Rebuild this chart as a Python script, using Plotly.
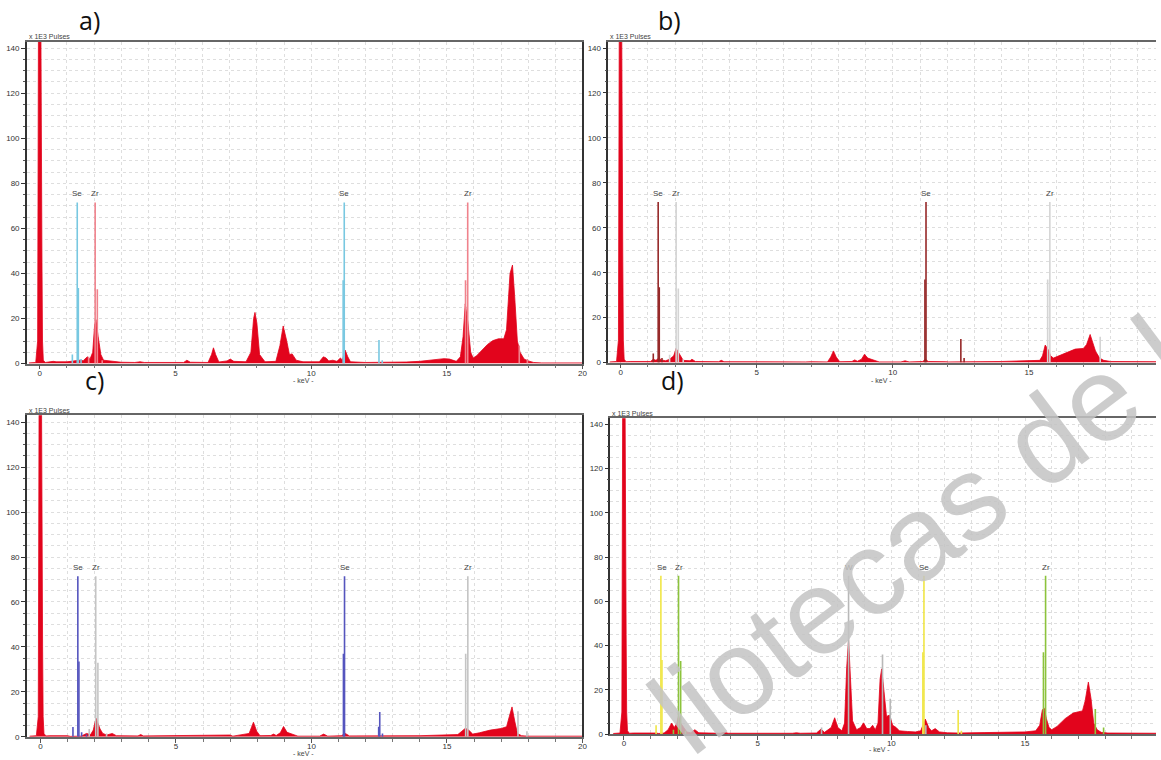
import plotly.graph_objects as go

W, H = 1161, 760

# ---------------- spectra (keV, x1E3 pulses) ----------------
a_keV = [-0.4, -0.15, -0.08, -0.05, 0.04, 0.06, 0.08, 0.1, 0.13, 0.2, 0.35, 0.5, 0.6, 0.8, 1.0, 1.15, 1.3, 1.45, 1.6, 1.75,
         1.85, 1.95, 2.02, 2.07, 2.15, 2.25, 2.35, 2.55, 2.7, 3.0, 3.5, 3.7, 3.85, 4.5, 5.3, 5.42, 5.55, 6.2, 6.33, 6.4,
         6.48, 6.6, 6.9, 7.02, 7.15, 7.6, 7.78, 7.88, 7.93, 8.0, 8.1, 8.3, 8.7, 8.85, 8.97, 9.1, 9.2, 9.3, 9.45, 9.7,
         10.3, 10.45, 10.55, 10.65, 10.8, 10.95, 11.08, 11.15, 11.25, 11.35, 11.45, 12.0, 12.5, 13.0, 13.5, 14.0, 14.5, 14.9, 15.1, 15.35,
         15.5, 15.6, 15.68, 15.78, 15.88, 15.97, 16.1, 16.3, 16.5, 16.7, 16.9, 17.1, 17.2, 17.33, 17.42, 17.5, 17.6, 17.7, 17.85, 18.0,
         18.2, 18.5, 20.0]
a_cts = [0.3, 0.5, 10, 150, 150, 46, 45, 10, 1.5, 0.5, 0.8, 1.0, 0.8, 0.7, 0.8, 1.0, 1.2, 1.5, 1.3, 3.0,
         2.0, 5, 17, 19.5, 12, 4, 1.5, 1.2, 0.8, 0.6, 0.5, 0.8, 0.5, 0.4, 0.5, 1.5, 0.6, 0.5, 4, 7,
         4, 0.7, 1.2, 2, 1.0, 0.8, 5, 20, 22.7, 18, 4, 0.8, 1.0, 8, 16.7, 10, 4, 4.3, 1.5, 0.8,
         0.8, 3, 2.5, 1.2, 1.5, 1.0, 2.5, 1.5, 6, 3, 0.8, 0.5, 0.5, 0.5, 0.7, 1.0, 1.5, 2.2, 2.0, 1.0,
         3, 12, 26.5, 18, 5, 2.5, 3.5, 6, 8.5, 10.2, 11, 11, 15, 40, 43.7, 30, 10, 5, 2, 1.2,
         0.5, 0.3, 0.3]

b_keV = [-0.4, -0.15, -0.08, -0.05, 0.04, 0.06, 0.08, 0.1, 0.13, 0.2, 0.35, 1.1, 1.2, 1.3, 1.4, 1.5, 1.65, 1.8, 1.95, 2.04,
         2.1, 2.2, 2.3, 2.55, 2.62, 2.75, 3.6, 3.7, 3.8, 6.8, 7.0, 7.6, 7.72, 7.82, 7.92, 8.05, 8.5, 8.6, 8.7, 8.85,
         8.96, 9.08, 9.3, 9.5, 10.3, 10.45, 10.6, 11.1, 11.2, 11.3, 11.95, 12.05, 14.0, 14.5, 15.0, 15.4, 15.5, 15.6, 15.7, 15.8,
         15.9, 16.1, 16.45, 16.7, 17.0, 17.12, 17.25, 17.35, 17.45, 17.6, 17.75, 18.0, 19.7]
b_cts = [0.3, 0.5, 10, 150, 150, 46, 45, 10, 1.5, 0.4, 0.5, 0.5, 1.5, 1.0, 2.0, 1.2, 0.8, 1.5, 3, 6.3,
         5, 2.5, 1.0, 0.8, 1.5, 0.5, 0.4, 1.0, 0.4, 0.3, 0.4, 0.3, 2.5, 5.2, 2.5, 0.4, 0.5, 1.2, 0.6, 1.5,
         3.7, 2, 1.0, 0.3, 0.3, 0.8, 0.3, 0.5, 1.5, 0.5, 0.4, 0.3, 0.5, 0.6, 0.8, 1.0, 3, 7.8, 6, 3,
         2, 3, 4.5, 6, 6.3, 8, 12.5, 9, 5, 2, 1, 0.5, 0.4]

c_keV = [-0.4, -0.15, -0.08, -0.05, 0.04, 0.06, 0.08, 0.1, 0.13, 0.2, 0.35, 1.0, 1.1, 1.5, 1.7, 1.85, 1.95, 2.05, 2.12, 2.2,
         2.3, 2.45, 2.65, 2.8, 3.6, 3.7, 3.8, 6.4, 7.0, 7.1, 7.7, 7.86, 7.98, 8.1, 8.5, 8.6, 8.7, 8.85, 8.97, 9.1,
         9.3, 9.5, 10.3, 10.45, 10.6, 11.1, 11.25, 11.4, 14.0, 14.5, 15.0, 15.4, 15.55, 15.68, 15.8, 15.95, 16.2, 16.6, 17.0, 17.2,
         17.3, 17.4, 17.5, 17.6, 17.75, 18.0, 20.0]
c_cts = [0.3, 0.5, 9, 150, 150, 46, 40, 9, 1.5, 0.4, 0.5, 0.5, 0.2, 0.3, 1.5, 1.0, 3, 8.3, 6, 3.5,
         1.5, 0.8, 1.5, 0.5, 0.4, 1.0, 0.4, 0.5, 0.8, 0.3, 1.5, 6.5, 2.5, 0.5, 0.6, 1.2, 0.6, 1.8, 4.6, 2,
         1.0, 0.3, 0.3, 1.2, 0.3, 0.5, 1.5, 0.4, 0.5, 0.6, 0.8, 1.0, 2.5, 3.8, 3, 1.2, 1.8, 3, 3.7, 4.5,
         9, 13.3, 7, 1.5, 0.5, 0.3, 0.3]

d_keV = [-0.4, -0.15, -0.08, -0.05, 0.04, 0.06, 0.08, 0.1, 0.13, 0.2, 0.35, 1.2, 1.3, 1.5, 1.65, 1.78, 1.88, 1.98, 2.04, 2.12,
         2.22, 2.35, 2.5, 2.65, 2.8, 3.6, 3.75, 3.9, 6.3, 6.45, 6.6, 7.2, 7.37, 7.5, 7.75, 7.88, 8.0, 8.15, 8.25, 8.33,
         8.4, 8.48, 8.55, 8.7, 8.85, 8.96, 9.08, 9.2, 9.3, 9.4, 9.5, 9.58, 9.64, 9.72, 9.82, 9.93, 10.05, 10.18, 10.3, 10.6,
         10.9, 11.1, 11.27, 11.4, 11.5, 11.64, 11.8, 12.1, 12.5, 13.5, 14.0, 14.5, 15.0, 15.4, 15.55, 15.65, 15.72, 15.8, 15.9, 16.0,
         16.2, 16.5, 16.8, 17.0, 17.15, 17.25, 17.37, 17.47, 17.57, 17.7, 17.85, 18.1, 19.9]
d_cts = [0.3, 0.5, 10, 150, 150, 46, 45, 10, 1.5, 0.4, 0.5, 0.5, 0.3, 0.5, 2, 5, 3, 5, 8.5, 5,
         3, 1.0, 0.6, 2, 0.6, 0.4, 0.8, 0.4, 0.4, 0.6, 0.4, 0.5, 2.3, 0.8, 3, 7.4, 3, 1.5, 5, 30,
         42.7, 25, 6, 2, 3, 5.1, 2.5, 2.5, 4, 2, 5, 25, 29.5, 20, 8, 8.6, 4, 3, 1.5, 1.2,
         1.0, 1.5, 6.8, 3, 1.5, 2.5, 1.0, 0.6, 0.5, 0.7, 0.8, 0.9, 1.0, 1.5, 4, 11, 11.7, 7, 3, 2,
         3.5, 7, 9.5, 10.1, 10.5, 15, 23.5, 16, 5, 2, 0.8, 0.5, 0.4]

# ---------------- element line markers ----------------
a_se_keV = [1.20, 1.38, 1.42, 1.52, 11.18, 11.22, 12.50, 12.62]
a_se_h = [4, 71.5, 33.5, 2, 37, 71.5, 10.5, 1.5]
a_zr_keV = [1.80, 2.04, 2.12, 2.30, 15.69, 15.77, 17.67, 17.97]
a_zr_h = [3, 71.5, 33, 1.5, 37, 71.5, 8, 2]

b_se_keV = [1.20, 1.38, 1.42, 1.52, 11.18, 11.22, 12.50, 12.62]
b_se_h = [4, 71.5, 33.5, 2, 37, 71.5, 10.5, 2]
b_zr_keV = [1.80, 2.04, 2.12, 2.30, 15.69, 15.77, 17.62]
b_zr_h = [3.5, 71.5, 33, 1.5, 37, 71.5, 11.5]

c_se_keV = [1.20, 1.38, 1.42, 1.52, 1.70, 11.18, 11.22, 12.48, 12.52, 12.62]
c_se_h = [4.4, 71.5, 33.5, 2, 1, 37, 71.5, 4.5, 11, 1.5]
c_zr_keV = [1.80, 2.04, 2.12, 2.44, 15.69, 15.77, 17.62, 17.95]
c_zr_h = [3.5, 71.5, 33, 1.5, 37, 71.5, 11.4, 2.5]

d_se_keV = [1.20, 1.38, 1.42, 11.18, 11.22, 12.50, 12.62]
d_se_h = [4, 71.5, 33.5, 37, 71.5, 10.9, 1.5]
d_zr_keV = [1.85, 2.04, 2.12, 2.30, 15.69, 15.77, 17.63, 17.94]
d_zr_h = [2, 71.5, 33, 1.5, 37, 71.5, 11.4, 3]
d_w_keV = [7.39, 8.40, 9.67, 9.96, 11.29]
d_w_h = [3, 71.5, 36, 16, 4]

# labels of element lines
a_labels = [("Se", 1.38), ("Zr", 2.04), ("Se", 11.22), ("Zr", 15.77)]
b_labels = [("Se", 1.38), ("Zr", 2.04), ("Se", 11.22), ("Zr", 15.77)]
c_labels = [("Se", 1.38), ("Zr", 2.04), ("Se", 11.22), ("Zr", 15.77)]
d_labels = [("Se", 1.42), ("Zr", 2.04), ("W", 8.40), ("Se", 11.22), ("Zr", 15.77)]

y_ticks = [0, 20, 40, 60, 80, 100, 120, 140]
x_ticks = [0, 5, 10, 15, 20]

watermark_text = "liotecas de la"

RED = "rgb(226,4,28)"
GRID = "#dedede"

panels = [
    dict(name="a)", keV=a_keV, cts=a_cts,
         lines=[(a_se_keV, a_se_h, "rgb(120,200,225)"), (a_zr_keV, a_zr_h, "rgb(240,130,140)")],
         labels=a_labels, xd=[27, 585], yd=[42, 366], xr=[-0.476, 20.0], yr=[0, 142.8],
         mirror_y=True, lab=(90, 20), kev=(305, 383), puls=(27, 37)),
    dict(name="b)", keV=b_keV, cts=b_cts,
         lines=[(b_se_keV, b_se_h, "rgb(150,40,40)"), (b_zr_keV, b_zr_h, "rgb(212,212,212)")],
         labels=b_labels, xd=[611, 1161], yd=[42, 365], xr=[-0.45, 19.67], yr=[0, 142.8],
         mirror_y=False, lab=(672, 20), kev=(885, 383), puls=(611, 37)),
    dict(name="c)", keV=c_keV, cts=c_cts,
         lines=[(c_se_keV, c_se_h, "rgb(85,85,190)"), (c_zr_keV, c_zr_h, "rgb(196,196,196)")],
         labels=c_labels, xd=[27, 585], yd=[418, 741.7], xr=[-0.5, 20.0], yr=[0, 143.1],
         mirror_y=True, lab=(95, 383), kev=(305, 758), puls=(27, 413)),
    dict(name="d)", keV=d_keV, cts=d_cts,
         lines=[(d_w_keV, d_w_h, "rgb(184,184,184)"), (d_se_keV, d_se_h, "rgb(240,230,70)"),
                (d_zr_keV, d_zr_h, "rgb(140,195,60)")],
         labels=d_labels, xd=[613, 1161], yd=[421, 739], xr=[-0.51, 19.9], yr=[0, 142.7],
         mirror_y=False, lab=(675, 383), kev=(883, 754), puls=(613, 416)),
]


def seg(es, hs):
    xs, ys = [], []
    for e, h in zip(es, hs):
        xs += [e, e, None]
        ys += [0, h, None]
    return xs, ys


fig = go.Figure()
annotations = []
layout_axes = {}

for i, p in enumerate(panels, start=1):
    xa = "x" if i == 1 else f"x{i}"
    ya = "y" if i == 1 else f"y{i}"
    fig.add_trace(go.Scatter(x=p["keV"], y=p["cts"], mode="lines", fill="tozeroy",
                             line=dict(color=RED, width=0.8), fillcolor=RED,
                             xaxis=xa, yaxis=ya, showlegend=False, hoverinfo="skip"))
    for es, hs, col in p["lines"]:
        xs, ys = seg(es, hs)
        fig.add_trace(go.Scatter(x=xs, y=ys, mode="lines", line=dict(color=col, width=1.6),
                                 xaxis=xa, yaxis=ya, showlegend=False, hoverinfo="skip"))
    xk = "xaxis" if i == 1 else f"xaxis{i}"
    yk = "yaxis" if i == 1 else f"yaxis{i}"
    layout_axes[xk] = dict(
        domain=[p["xd"][0] / W, p["xd"][1] / W], range=p["xr"], anchor=ya,
        tickvals=x_ticks, ticktext=[str(v) for v in x_ticks], ticks="outside", ticklen=4,
        tickcolor="#555", tickfont=dict(size=8, color="#333", family="Liberation Sans"),
        ticklabelstandoff=-3,
        showline=True, linecolor="#666", linewidth=1.5, mirror=True,
        showgrid=True, gridcolor=GRID, griddash="dot", gridwidth=1, zeroline=False,
        minor=dict(dtick=1, tick0=0, ticks="outside", ticklen=3, tickcolor="#777",
                   showgrid=True, gridcolor=GRID, griddash="dot"),
    )
    layout_axes[yk] = dict(
        domain=[1 - p["yd"][1] / H, 1 - p["yd"][0] / H], range=p["yr"], anchor=xa,
        tickvals=y_ticks, ticktext=[str(v) for v in y_ticks], ticks="outside", ticklen=4,
        tickcolor="#333", tickfont=dict(size=8, color="#333", family="Liberation Sans"),
        showline=True, linecolor="#333", linewidth=1.5, mirror=p["mirror_y"],
        showgrid=True, gridcolor=GRID, griddash="dot", gridwidth=1, zeroline=False,
        minor=dict(dtick=5, tick0=0, ticks="outside", ticklen=2, tickcolor="#555",
                   showgrid=True, gridcolor=GRID, griddash="dot"),
    )
    for txt, e in p["labels"]:
        annotations.append(dict(text=txt, x=e, y=72.5, xref=xa, yref=ya, showarrow=False,
                                yanchor="bottom", xanchor="center",
                                font=dict(size=8, color="#444", family="Liberation Sans")))
    annotations.append(dict(text=p["name"], x=p["lab"][0] / W, y=1 - p["lab"][1] / H, xref="paper", yref="paper",
                            showarrow=False, xanchor="center", yanchor="middle",
                            font=dict(size=25, color="#111", family="Open Sans")))
    annotations.append(dict(text="- keV -", x=p["kev"][0] / W, y=1 - p["kev"][1] / H, xref="paper", yref="paper",
                            showarrow=False, xanchor="center", yanchor="middle",
                            font=dict(size=7, color="#444", family="Liberation Sans")))
    annotations.append(dict(text="x 1E3 Pulses", x=p["puls"][0] / W, y=1 - p["puls"][1] / H, xref="paper",
                            yref="paper", showarrow=False, xanchor="left", yanchor="middle",
                            font=dict(size=7, color="#444", family="Liberation Sans")))

# library watermark crossing the right-hand panels
annotations.append(dict(text=watermark_text, x=950 / W, y=1 - 517 / H, xref="paper", yref="paper",
                        showarrow=False, xanchor="center", yanchor="middle", textangle=-37,
                        font=dict(size=120, color="rgba(195,195,195,0.85)", family="Liberation Sans")))

fig.update_layout(width=W, height=H, margin=dict(l=0, r=0, t=0, b=0),
                  paper_bgcolor="white", plot_bgcolor="white",
                  annotations=annotations, **layout_axes)

fig.write_html("out.html")
